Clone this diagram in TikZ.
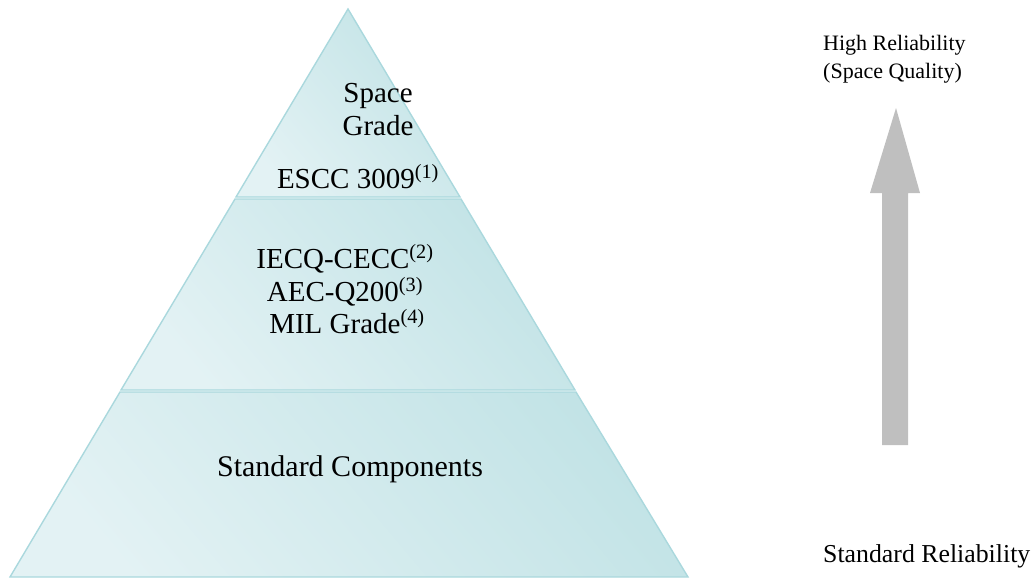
\documentclass[tikz,border=0pt]{standalone}
\usepackage{fontspec}
\setmainfont{Liberation Serif}
\definecolor{edgec}{HTML}{AAD8DD}
\definecolor{lightc}{HTML}{E3F2F4}
\definecolor{darkc}{HTML}{C2E3E6}
\definecolor{arrowc}{HTML}{BFBFBF}
\begin{document}
\begin{tikzpicture}[x=1pt,y=-1pt,
  layer/.style={draw=edgec,line width=1.4pt,top color=darkc,bottom color=lightc,shading angle=-50},
  ptext/.style={anchor=base,inner sep=0pt,font=\fontsize{29}{32}\selectfont},
  rtext/.style={anchor=base west,inner sep=0pt,font=\fontsize{22}{26}\selectfont}]
\useasboundingbox (0,0) rectangle (1032,578);
% layers
\path[layer] (348,9) -- (460,197) -- (236,197) -- cycle;
\path[layer] (235,199) -- (461,199) -- (575,390) -- (121,390) -- cycle;
\path[layer] (120,392) -- (576,392) -- (688,577) -- (10,577) -- cycle;
% pyramid texts
\node[ptext] (space) at (378,102) {Space};
\node[ptext] (grade) at (378,135) {Grade};
\node[ptext] (escc) at (358,188) {ESCC 3009\textsuperscript{(1)}};
\node[ptext] (iecq) at (345,268) {IECQ-CECC\textsuperscript{(2)}};
\node[ptext] (aec) at (345,301) {AEC-Q200\textsuperscript{(3)}};
\node[ptext] (mil) at (347,333) {MIL Grade\textsuperscript{(4)}};
\node[ptext,font=\fontsize{30}{34}\selectfont] (std) at (350,476) {Standard Components};
% right side
\node[rtext] (high) at (823,50) {High Reliability};
\node[rtext] (spq) at (823,78) {(Space Quality)};
\node[rtext,font=\fontsize{25.8}{30}\selectfont] (stdr) at (823,562) {Standard Reliability};
\fill[arrowc] (896,108) -- (920,193) -- (908,193) -- (908,445) -- (882,445) -- (882,193) -- (870,193) -- cycle;
\end{tikzpicture}
\end{document}
